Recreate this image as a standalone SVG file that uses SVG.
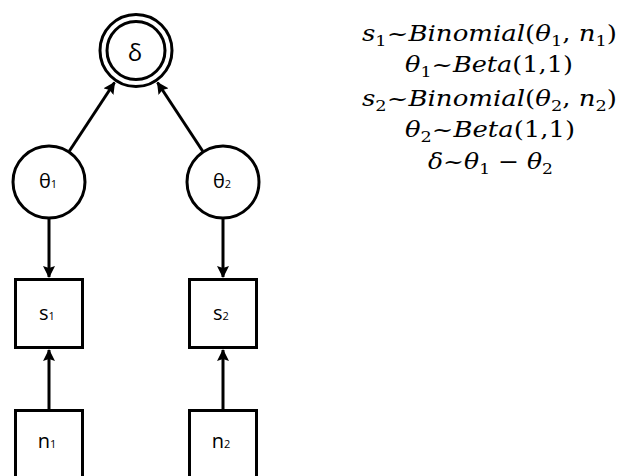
<svg xmlns="http://www.w3.org/2000/svg" width="622" height="476" viewBox="0 0 622 476">
<style>
.shape{fill:#fff;stroke:#000;stroke-width:3}
.edge{stroke:#000;stroke-width:3;fill:none}
.lbl{font-family:"Open Sans","DejaVu Sans",sans-serif;font-size:20px;fill:#000;text-anchor:middle}
.lsub{font-size:11px}
.eq{font-family:"DejaVu Serif","Liberation Serif",serif;font-size:22px;fill:#000;text-anchor:middle}
.it{font-style:italic}
.sub{font-size:15px}
</style>
<defs>
<marker id="ah" markerWidth="12" markerHeight="12" refX="11" refY="6" orient="auto" markerUnits="userSpaceOnUse">
<path d="M0,0 L12,6 L0,12 L2,6 z" fill="#000"/>
</marker>
</defs>
<rect width="622" height="476" fill="#fff"/>
<g id="connectors">
<line class="edge" x1="69.4" y1="151" x2="114.5" y2="82.5" marker-end="url(#ah)"/>
<line class="edge" x1="202.6" y1="151" x2="157.5" y2="82.5" marker-end="url(#ah)"/>
<line class="edge" x1="49" y1="219" x2="49" y2="277" marker-end="url(#ah)"/>
<line class="edge" x1="223" y1="219" x2="223" y2="277" marker-end="url(#ah)"/>
<line class="edge" x1="49" y1="409" x2="49" y2="350" marker-end="url(#ah)"/>
<line class="edge" x1="223" y1="409" x2="223" y2="350" marker-end="url(#ah)"/>
</g>
<g id="delta">
<circle class="shape" cx="136" cy="50.5" r="36"/>
<circle class="shape" cx="136" cy="50.5" r="29"/>
<text class="lbl" x="135" y="61" style="font-size:24px">δ</text>
</g>
<g id="theta1">
<circle class="shape" cx="49" cy="182" r="36"/>
<text class="lbl" x="48" y="188">θ<tspan class="lsub">1</tspan></text>
</g>
<g id="theta2">
<circle class="shape" cx="223" cy="182" r="36"/>
<text class="lbl" x="222" y="188">θ<tspan class="lsub">2</tspan></text>
</g>
<g id="s1">
<rect class="shape" x="15.5" y="279.5" width="67" height="68"/>
<text class="lbl" x="47" y="320">s<tspan class="lsub">1</tspan></text>
</g>
<g id="s2">
<rect class="shape" x="189.5" y="279.5" width="67" height="68"/>
<text class="lbl" x="221" y="320">s<tspan class="lsub">2</tspan></text>
</g>
<g id="n1">
<rect class="shape" x="15.5" y="410.5" width="67" height="68"/>
<text class="lbl" x="47" y="448">n<tspan class="lsub">1</tspan></text>
</g>
<g id="n2">
<rect class="shape" x="189.5" y="410.5" width="67" height="68"/>
<text class="lbl" x="221" y="448">n<tspan class="lsub">2</tspan></text>
</g>
<g id="equations">
<text class="eq" x="489.5" y="41" textLength="255" lengthAdjust="spacingAndGlyphs"><tspan class="it">s</tspan><tspan class="sub" dy="5">1</tspan><tspan dy="-5">~</tspan><tspan class="it">Binomial</tspan>(<tspan class="it">θ</tspan><tspan class="sub" dy="5">1</tspan><tspan dy="-5">, </tspan><tspan class="it">n</tspan><tspan class="sub" dy="5">1</tspan><tspan dy="-5">)</tspan></text>
<text class="eq" x="489" y="72" textLength="168" lengthAdjust="spacingAndGlyphs"><tspan class="it">θ</tspan><tspan class="sub" dy="5">1</tspan><tspan dy="-5">~</tspan><tspan class="it">Beta</tspan>(1,1)</text>
<text class="eq" x="489.5" y="106" textLength="255" lengthAdjust="spacingAndGlyphs"><tspan class="it">s</tspan><tspan class="sub" dy="5">2</tspan><tspan dy="-5">~</tspan><tspan class="it">Binomial</tspan>(<tspan class="it">θ</tspan><tspan class="sub" dy="5">2</tspan><tspan dy="-5">, </tspan><tspan class="it">n</tspan><tspan class="sub" dy="5">2</tspan><tspan dy="-5">)</tspan></text>
<text class="eq" x="490" y="137" textLength="170" lengthAdjust="spacingAndGlyphs"><tspan class="it">θ</tspan><tspan class="sub" dy="5">2</tspan><tspan dy="-5">~</tspan><tspan class="it">Beta</tspan>(1,1)</text>
<text class="eq" x="490.5" y="169" textLength="125" lengthAdjust="spacingAndGlyphs"><tspan class="it">δ</tspan>~<tspan class="it">θ</tspan><tspan class="sub" dy="5">1</tspan><tspan dy="-5"> − </tspan><tspan class="it">θ</tspan><tspan class="sub" dy="5">2</tspan></text>
</g>
</svg>
